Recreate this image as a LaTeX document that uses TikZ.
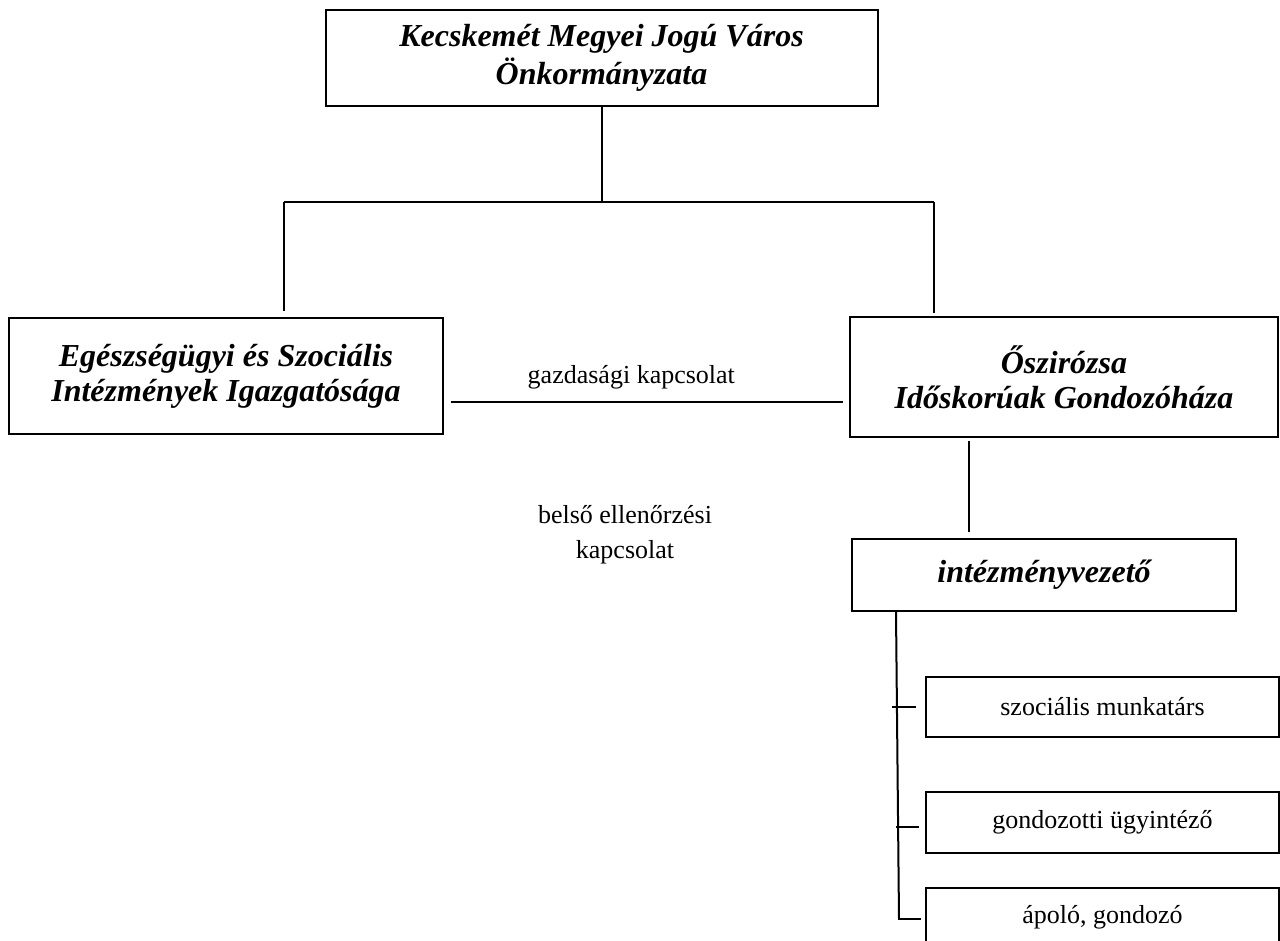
\documentclass[tikz,border=0pt]{standalone}
\usepackage{fontspec}
\setmainfont{Liberation Serif}
\usepackage{tikz}
\usetikzlibrary{calc}

\newcommand\headfont{\fontsize{16}{17.5}\selectfont\bfseries\itshape}
\newcommand\plainfont{\fontsize{13}{17.5}\selectfont}

\begin{document}
\begin{tikzpicture}[x=0.5pt, y=-0.5pt, line width=1pt,
    headbox/.style={draw, inner sep=0pt, align=center, font=\headfont},
    staffbox/.style={draw, inner sep=0pt, align=center, font=\plainfont,
                     minimum width=176.5pt},
    lbl/.style={inner sep=0pt, align=center, font=\plainfont}]
  \useasboundingbox (0,0) rectangle (1280,941);

  % boxes
  \node[headbox, minimum width=276pt, minimum height=48pt] (onk) at (601.5,58)
    {Kecskemét Megyei Jogú Város\\[1.5pt]Önkormányzata};
  \node[headbox, minimum width=217pt, minimum height=58pt] (esz) at (226,376)
    {Egészségügyi és Szociális\\Intézmények Igazgatósága};
  \node[headbox, minimum width=214pt, minimum height=60pt] (osz) at (1064,377)
    {Őszirózsa\\Időskorúak Gondozóháza};
  \node[headbox, minimum width=192pt, minimum height=36pt] (vez) at (1044,575)
    {intézményvezető};
  \node[staffbox, minimum height=30pt] (szoc) at (1102.5,707) {szociális munkatárs};
  \node[staffbox, minimum height=30.5pt] (gond) at (1102.5,822.5) {gondozotti ügyintéző};
  \node[staffbox, minimum height=29pt] (apolo) at (1102.5,917) {ápoló, gondozó};

  % upper tree
  \coordinate (busL) at (284,202);
  \coordinate (busR) at (934,202);
  \draw (onk.south) -- (onk.south |- busL);
  \draw (busL) -- (busR);
  \draw (busL) -- ($(busL |- esz.north)+(0,-6)$);
  \draw (busR) -- ($(busR |- osz.north)+(0,-3)$);

  % relations
  \draw ($(esz.east)+(7,26)$) -- ($(osz.west)+(-6,25)$)
    node[lbl, pos=0.46, above=6pt] (gazd) {gazdasági kapcsolat};
  \node[lbl] (belso) at (625,535) {belső ellenőrzési\\kapcsolat};

  % staff
  \draw ($(osz.south west)+(120,3)$) -- ($(vez.north west)+(118,-6)$);
  \coordinate (spT) at ($(vez.south west)+(45,0)$);
  \draw (spT) -- ($(apolo.west)+(-26,2)$);
  \foreach \n/\a/\b/\d in {szoc/-33/-9/0, gond/-29/-6/4, apolo/-27/-4/2}
    \draw ($(\n.west)+(\a,\d)$) -- ($(\n.west)+(\b,\d)$);
\end{tikzpicture}
\end{document}
